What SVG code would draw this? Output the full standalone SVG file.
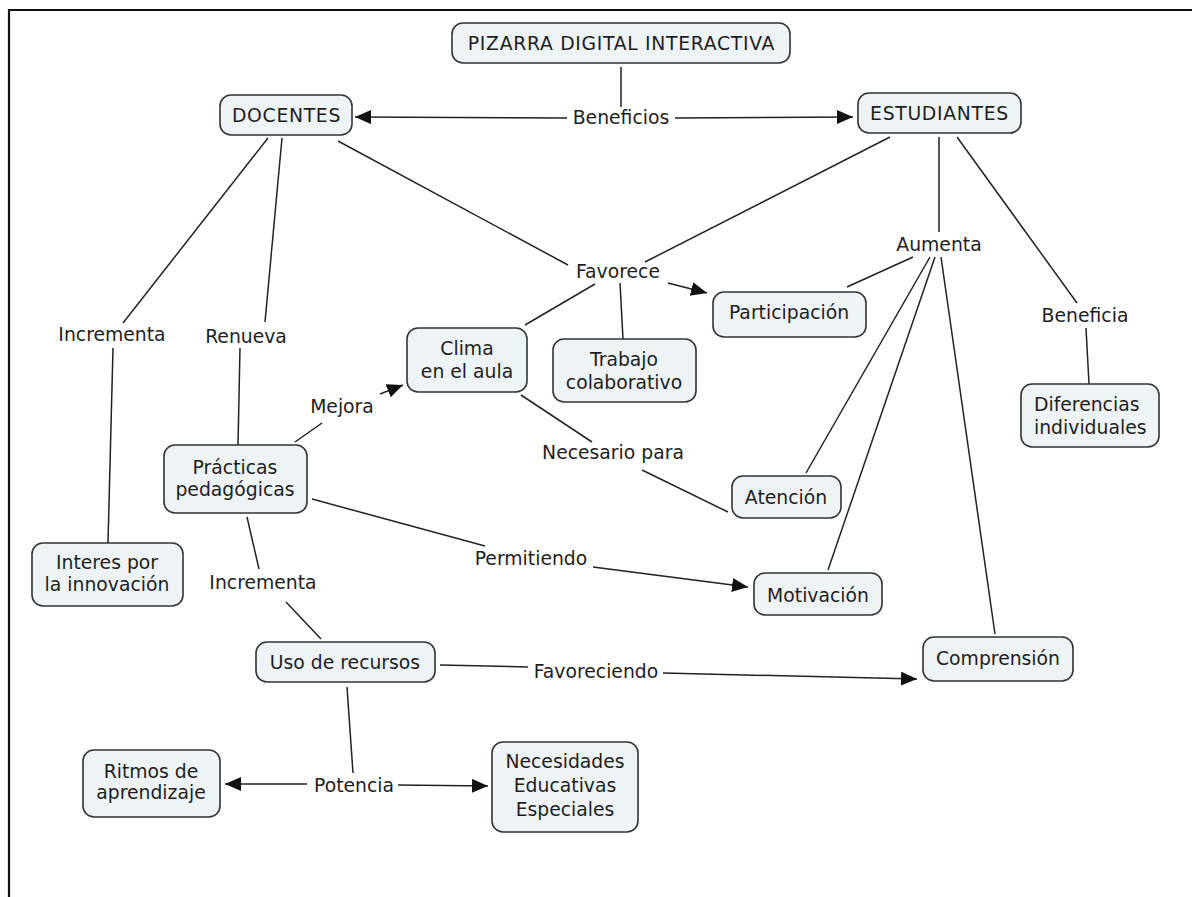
<svg xmlns="http://www.w3.org/2000/svg" width="1192" height="897" viewBox="0 0 1192 897">
<style>
.n rect{fill:#eef3f6;stroke:#333;stroke-width:1.6}
text{font-family:"DejaVu Sans","Liberation Sans",sans-serif;font-size:18.8px;fill:#1e1e1e;text-anchor:middle}
.caps{letter-spacing:0.7px}
.c line{stroke:#222;stroke-width:1.5}
.a{marker-end:url(#ah)}
</style>
<defs>
<marker id="ah" markerUnits="userSpaceOnUse" markerWidth="18" markerHeight="16" refX="16" refY="7" orient="auto">
<path d="M0,0 L16,7 L0,14 z" fill="#111"/>
</marker>
</defs>
<rect width="1192" height="897" fill="#fff"/>
<path d="M9,897 V10 H1192" fill="none" stroke="#111" stroke-width="2.2"/>
<g class="c">
<line x1="621" y1="67" x2="621" y2="107"/>
<line class="a" x1="567" y1="118" x2="355" y2="117"/>
<line class="a" x1="675" y1="118" x2="853" y2="117"/>
<line x1="268" y1="138" x2="123" y2="323"/>
<line x1="113" y1="348" x2="108" y2="543"/>
<line x1="282" y1="138" x2="265" y2="322"/>
<line x1="240" y1="348" x2="238" y2="445"/>
<line x1="295" y1="442" x2="322" y2="423"/>
<line class="a" x1="380" y1="394" x2="403" y2="385"/>
<line x1="338" y1="141" x2="568" y2="265"/>
<line x1="890" y1="137" x2="645" y2="262"/>
<line x1="595" y1="284" x2="525" y2="325"/>
<line x1="620" y1="283" x2="623" y2="339"/>
<line class="a" x1="668" y1="283" x2="707" y2="293"/>
<line x1="521" y1="395" x2="592" y2="442"/>
<line x1="642" y1="470" x2="728" y2="512"/>
<line x1="939" y1="137" x2="939" y2="232"/>
<line x1="957" y1="137" x2="1077" y2="303"/>
<line x1="1086" y1="328" x2="1089" y2="384"/>
<line x1="913" y1="257" x2="847" y2="287"/>
<line x1="930" y1="257" x2="806" y2="473"/>
<line x1="935" y1="257" x2="828" y2="570"/>
<line x1="941" y1="257" x2="995" y2="634"/>
<line x1="312" y1="499" x2="485" y2="546"/>
<line class="a" x1="593" y1="567" x2="748" y2="587"/>
<line x1="247" y1="517" x2="259" y2="569"/>
<line x1="286" y1="602" x2="321" y2="639"/>
<line x1="440" y1="665" x2="528" y2="667"/>
<line class="a" x1="663" y1="673" x2="917" y2="679"/>
<line x1="347" y1="687" x2="353" y2="773"/>
<line class="a" x1="307" y1="784" x2="225" y2="784"/>
<line class="a" x1="398" y1="785" x2="488" y2="786"/>
</g>
<g id="lbl-beneficios"><text x="621" y="124">Beneficios</text></g>
<g id="lbl-incrementa1"><text x="112" y="341">Incrementa</text></g>
<g id="lbl-renueva"><text x="246" y="343">Renueva</text></g>
<g id="lbl-favorece"><text x="618" y="278">Favorece</text></g>
<g id="lbl-aumenta"><text x="939" y="251">Aumenta</text></g>
<g id="lbl-beneficia"><text x="1085" y="322">Beneficia</text></g>
<g id="lbl-mejora"><text x="342" y="413">Mejora</text></g>
<g id="lbl-necesario"><text x="613" y="459">Necesario para</text></g>
<g id="lbl-permitiendo"><text x="531" y="565">Permitiendo</text></g>
<g id="lbl-incrementa2"><text x="263" y="589">Incrementa</text></g>
<g id="lbl-favoreciendo"><text x="596" y="678">Favoreciendo</text></g>
<g id="lbl-potencia"><text x="354" y="792">Potencia</text></g>
<g id="pizarra" class="n"><rect x="452" y="23" width="338" height="40" rx="11"/><text class="caps" x="621.5" y="50">PIZARRA DIGITAL INTERACTIVA</text></g>
<g id="docentes" class="n"><rect x="220" y="95" width="132" height="40" rx="11"/><text class="caps" x="286.5" y="122">DOCENTES</text></g>
<g id="estudiantes" class="n"><rect x="858" y="93" width="163" height="40" rx="11"/><text class="caps" x="939.5" y="120">ESTUDIANTES</text></g>
<g id="clima" class="n"><rect x="407" y="328" width="120" height="64" rx="11"/><text x="467" y="355">Clima</text><text x="467" y="378">en el aula</text></g>
<g id="trabajo" class="n"><rect x="553" y="339" width="143" height="63" rx="11"/><text x="624" y="366">Trabajo</text><text x="624" y="389">colaborativo</text></g>
<g id="participacion" class="n"><rect x="713" y="292" width="153" height="45" rx="11"/><text x="789" y="319">Participación</text></g>
<g id="practicas" class="n"><rect x="164" y="445" width="143" height="68" rx="11"/><text x="235" y="474">Prácticas</text><text x="235" y="496">pedagógicas</text></g>
<g id="interes" class="n"><rect x="32" y="543" width="151" height="63" rx="11"/><text x="107" y="569">Interes por</text><text x="107" y="591">la innovación</text></g>
<g id="atencion" class="n"><rect x="732" y="476" width="109" height="42" rx="11"/><text x="786" y="504">Atención</text></g>
<g id="motivacion" class="n"><rect x="754" y="573" width="128" height="42" rx="11"/><text x="818" y="602">Motivación</text></g>
<g id="diferencias" class="n"><rect x="1021" y="384" width="138" height="63" rx="11"/><text x="1034" y="411" style="text-anchor:start">Diferencias</text><text x="1034" y="434" style="text-anchor:start">individuales</text></g>
<g id="comprension" class="n"><rect x="923" y="637" width="150" height="44" rx="11"/><text x="998" y="665">Comprensión</text></g>
<g id="uso" class="n"><rect x="256" y="642" width="179" height="40" rx="11"/><text x="345" y="669">Uso de recursos</text></g>
<g id="ritmos" class="n"><rect x="83" y="750" width="137" height="67" rx="11"/><text x="151" y="778">Ritmos de</text><text x="151" y="799">aprendizaje</text></g>
<g id="necesidades" class="n"><rect x="492" y="742" width="146" height="90" rx="11"/><text x="565" y="768">Necesidades</text><text x="565" y="792">Educativas</text><text x="565" y="816">Especiales</text></g>
</svg>
